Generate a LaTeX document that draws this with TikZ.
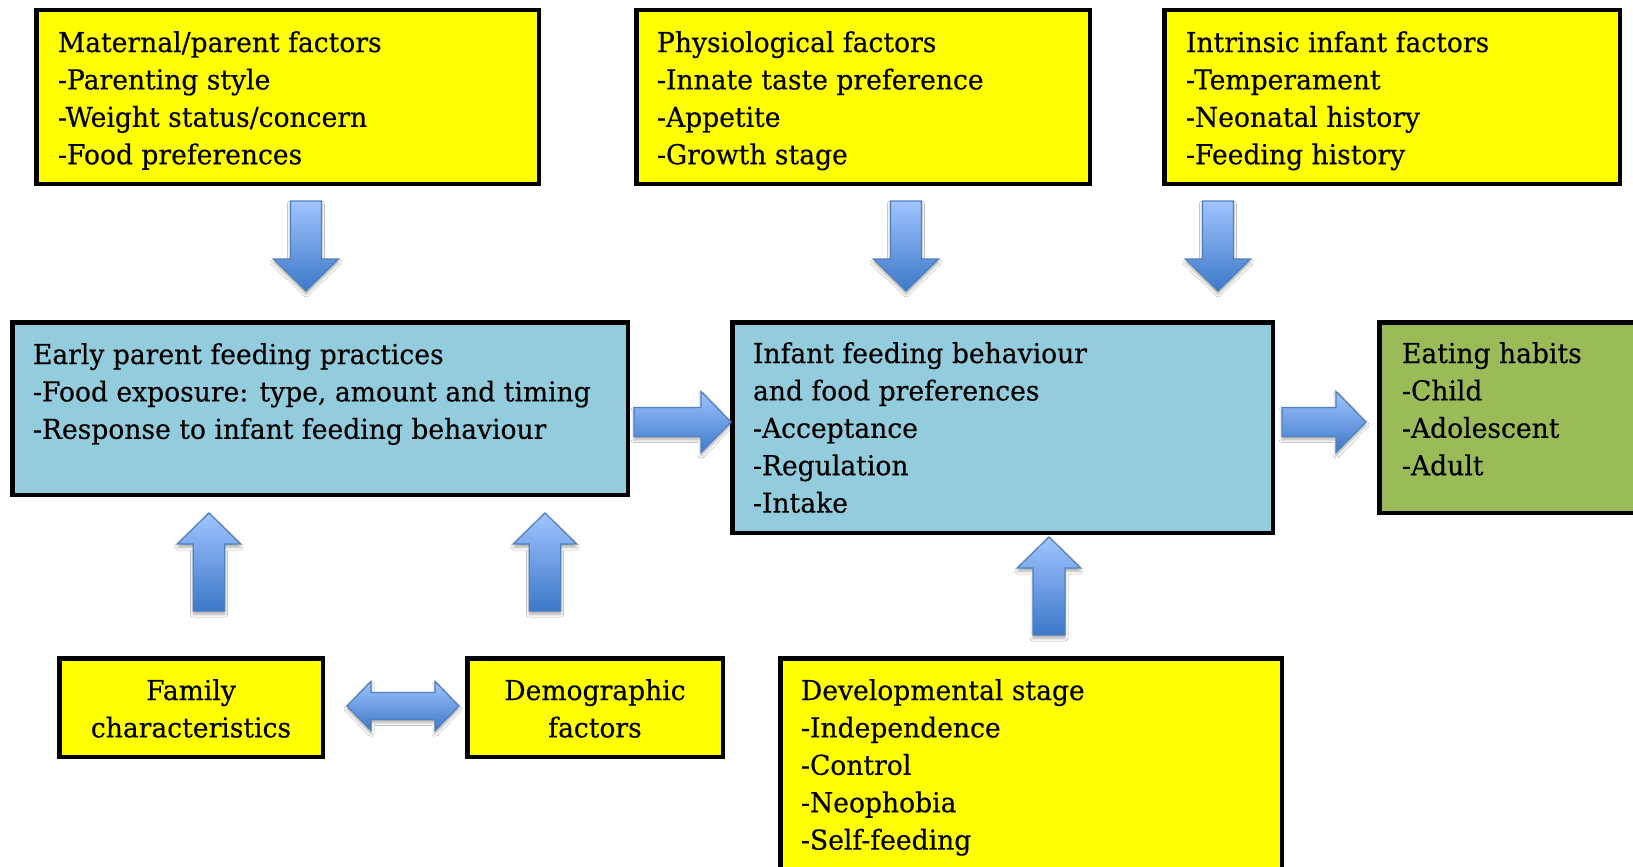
\documentclass[tikz,border=0pt]{standalone}
\usepackage{fontspec}
\setmainfont{DejaVu Serif}[FakeStretch=0.97,FakeBold=0.4]
\usetikzlibrary{calc,shadows.blur}
\definecolor{boxyellow}{RGB}{255,255,0}
\definecolor{boxblue}{RGB}{147,205,221}
\definecolor{boxgreen}{RGB}{155,187,89}
\definecolor{arrtop}{RGB}{160,196,255}
\definecolor{arrbot}{RGB}{60,120,200}
\definecolor{arrline}{RGB}{79,129,189}
\newcommand\mybox[6]{%
  \node[boxbase, fill=#6, anchor=north west,
        minimum width={(#4-#2-4.5)*1pt}, minimum height={(#5-#3-4.5)*1pt}]
        (#1) at ({#2+2.25},{#3+2.25}) {};}
\newcommand\barrow[5]{%
  \coordinate (hb) at ($(#2)!#5!(#1)$);
  \path[blockarrow] ($(#1)!#3!90:(#2)$) -- ($(hb)!#3!90:(#2)$) -- ($(hb)!#4!90:(#2)$)
     -- (#2) -- ($(hb)!#4!-90:(#2)$) -- ($(hb)!#3!-90:(#2)$) -- ($(#1)!#3!-90:(#2)$) -- cycle;}
\newcommand\dbarrow[5]{%
  \coordinate (ha) at ($(#1)!#5!(#2)$);
  \coordinate (hb) at ($(#2)!#5!(#1)$);
  \path[blockarrow] (#1) -- ($(ha)!#4!90:(#2)$) -- ($(ha)!#3!90:(#2)$)
     -- ($(hb)!#3!-90:(#1)$) -- ($(hb)!#4!-90:(#1)$) -- (#2)
     -- ($(hb)!#4!90:(#1)$) -- ($(hb)!#3!90:(#1)$)
     -- ($(ha)!#3!-90:(#2)$) -- ($(ha)!#4!-90:(#2)$) -- cycle;}
\begin{document}
\begin{tikzpicture}[x=1pt,y=-1pt,
  boxbase/.style={draw=black, line width=4.5pt, rectangle, inner sep=0pt, outer sep=0pt},
  txt/.style={inner sep=0pt, outer sep=0pt, align=left, font=\fontsize{27.4pt}{37.4pt}\selectfont, text=black},
  blockarrow/.style={draw=arrline, line width=1.2pt, line join=miter, top color=arrtop, bottom color=arrbot,
     blur shadow={shadow xshift=0pt, shadow yshift=-3pt, shadow blur radius=3pt, shadow opacity=35}}
]
\useasboundingbox (0,0) rectangle (1633,867);
\fill[white] (0,0) rectangle (1633,867);
\clip (0,0) rectangle (1633,867);

% boxes
\mybox{mat}{34}{8}{541}{186}{boxyellow}
\mybox{phys}{634}{8}{1092}{186}{boxyellow}
\mybox{intr}{1162}{8}{1622}{186}{boxyellow}
\mybox{early}{10}{320}{630}{497}{boxblue}
\mybox{infant}{730}{320}{1275}{535}{boxblue}
\mybox{eat}{1377}{320}{1645}{515}{boxgreen}
\mybox{family}{57}{656}{325}{759}{boxyellow}
\mybox{demo}{465}{656}{725}{759}{boxyellow}
\mybox{dev}{778}{656}{1284}{885}{boxyellow}

% texts
\node[txt, anchor=north west] (matT) at (58,{52-26.18}) {\strut Maternal/parent factors\\-Parenting style\\-Weight status/concern\\-Food preferences};
\node[txt, anchor=north west] (physT) at (657,{52-26.18}) {\strut Physiological factors\\-Innate taste preference\\-Appetite\\-Growth stage};
\node[txt, anchor=north west] (intrT) at (1186,{52-26.18}) {\strut Intrinsic infant factors\\-Temperament\\-Neonatal history\\-Feeding history};
\node[txt, anchor=north west] (earlyT) at (33,{364-26.18}) {\strut Early parent feeding practices\\-Food exposure: type, amount and timing\\-Response to infant feeding behaviour};
\node[txt, anchor=north west] (infantT) at (753,{363-26.18}) {\strut Infant feeding behaviour\\and food preferences\\-Acceptance\\-Regulation\\-Intake};
\node[txt, anchor=north west] (eatT) at (1402,{363-26.18}) {\strut Eating habits\\-Child\\-Adolescent\\-Adult};
\node[txt, align=center, anchor=north] (familyT) at (191,{700-26.18}) {\strut Family\\characteristics};
\node[txt, align=center, anchor=north] (demoT) at (595,{700-26.18}) {\strut Demographic\\factors};
\node[txt, anchor=north west] (devT) at (801,{700-26.18}) {\strut Developmental stage\\-Independence\\-Control\\-Neophobia\\-Self-feeding};

% arrow end points
\coordinate (a1s) at (306,201);  \coordinate (a1e) at (306,291);
\coordinate (a2s) at (906,201);  \coordinate (a2e) at (906,291);
\coordinate (a3s) at (1218,201); \coordinate (a3e) at (1218,291);
\coordinate (r1s) at (634,422);  \coordinate (r1e) at (731,422);
\coordinate (r2s) at (1282,422); \coordinate (r2e) at (1366,422);
\coordinate (u1s) at (209,611);  \coordinate (u1e) at (209,513);
\coordinate (u2s) at (545,611);  \coordinate (u2e) at (545,513);
\coordinate (u3s) at (1049,635); \coordinate (u3e) at (1049,537);
\coordinate (ds) at (347,706);   \coordinate (de) at (459,706);

\barrow{a1s}{a1e}{15.5pt}{32.5pt}{32pt}
\barrow{a2s}{a2e}{15.5pt}{32.5pt}{32pt}
\barrow{a3s}{a3e}{15.5pt}{32.5pt}{32pt}
\barrow{r1s}{r1e}{14.5pt}{30.5pt}{30pt}
\barrow{r2s}{r2e}{14.5pt}{30.5pt}{30pt}
\barrow{u1s}{u1e}{15.7pt}{31.5pt}{31pt}
\barrow{u2s}{u2e}{15.7pt}{31.5pt}{31pt}
\barrow{u3s}{u3e}{16pt}{31.5pt}{31pt}
\dbarrow{ds}{de}{13.5pt}{24.5pt}{24pt}
\end{tikzpicture}
\end{document}
